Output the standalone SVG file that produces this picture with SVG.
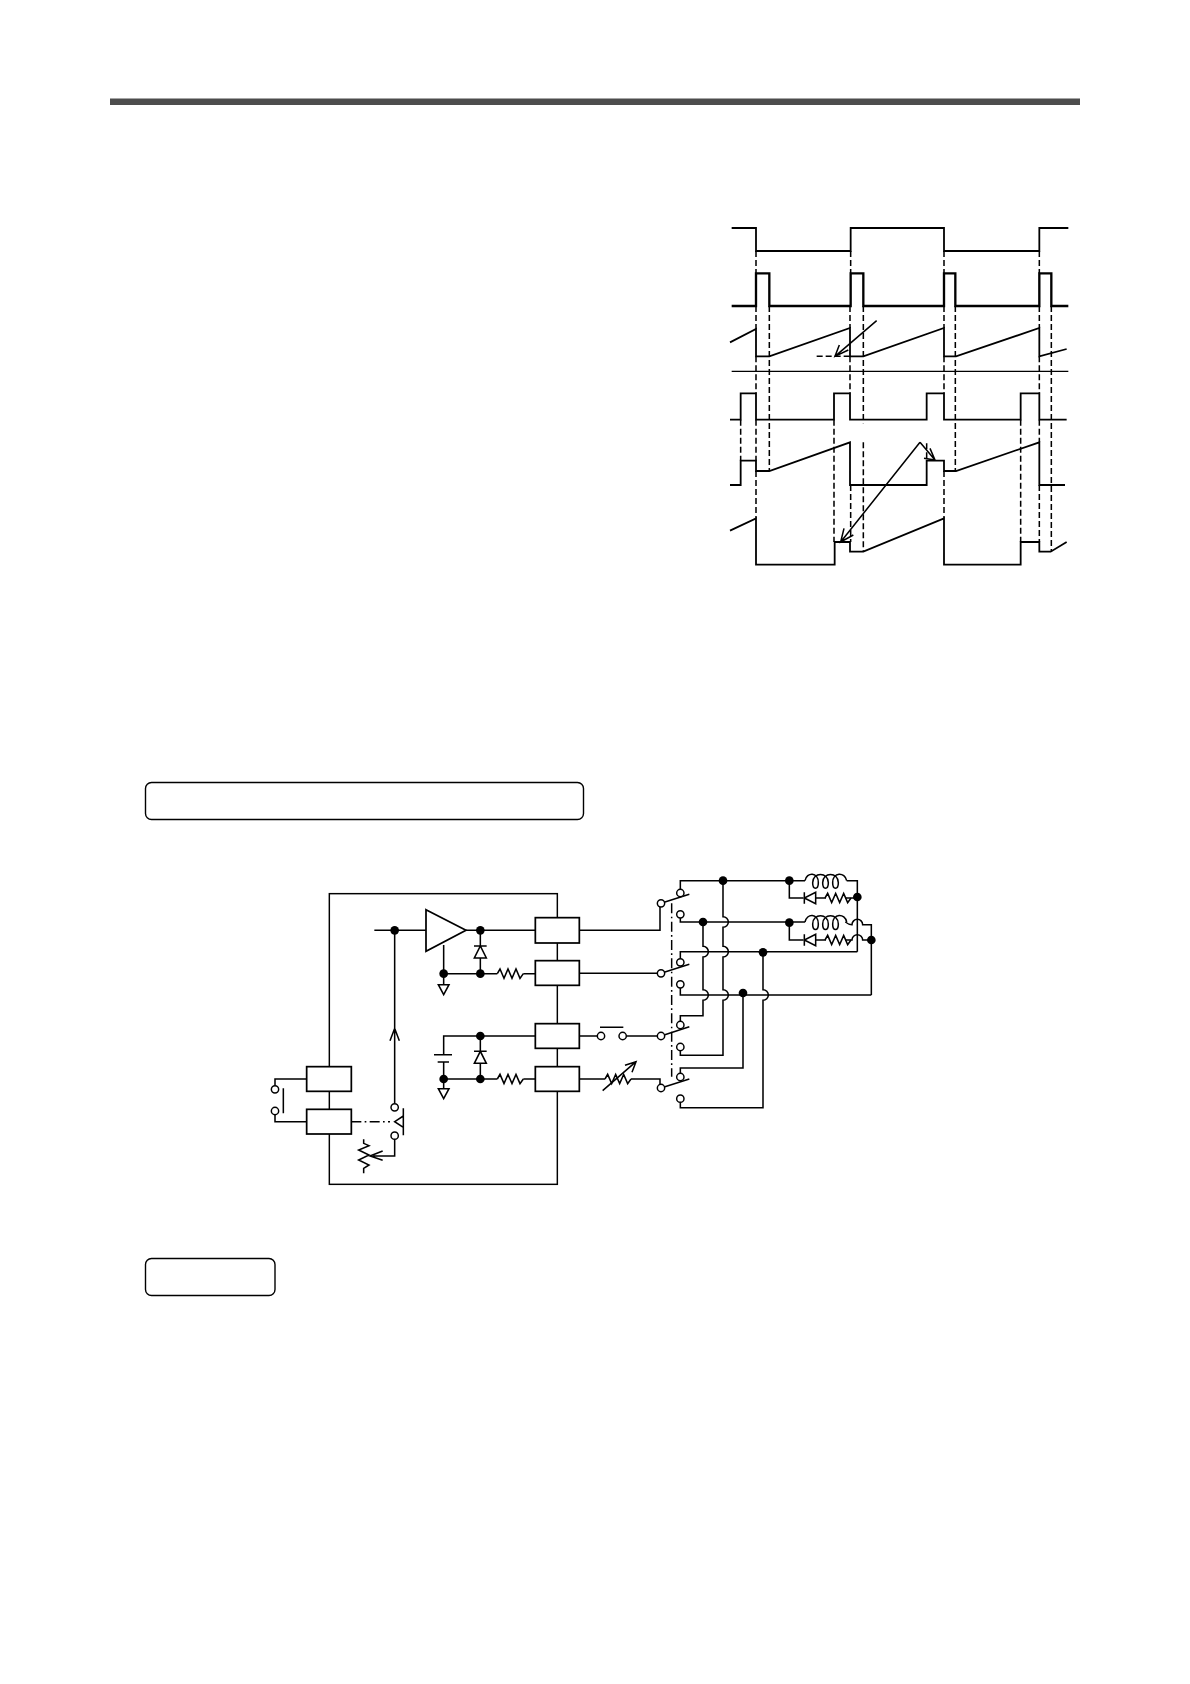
<svg xmlns="http://www.w3.org/2000/svg" xmlns:xlink="http://www.w3.org/1999/xlink" width="1190" height="1684" viewBox="0 0 1190 1684">
<style>
.w{fill:none;stroke:#000;stroke-width:5.4;stroke-linejoin:miter}
.wb{fill:none;stroke:#000;stroke-width:7;stroke-linejoin:miter}
.t{fill:none;stroke:#000;stroke-width:3.8}
.d{fill:none;stroke:#000;stroke-width:4.6;stroke-dasharray:18 9}
.c{fill:none;stroke:#000;stroke-width:4.6}
.b{fill:#fff;stroke:#000;stroke-width:5.2}
.o{fill:#fff;stroke:#000;stroke-width:4.4}
.n{fill:#000;stroke:none}
.dd{fill:none;stroke:#000;stroke-width:4.4;stroke-dasharray:30 10 5 10}
.frame{fill:#fff;stroke:#000;stroke-width:1.4}
</style>
<defs>
<path id="res" class="c" d="M0,0 L8,-14 L20,14 L32,-14 L44,14 L56,-14 L68,14 L78,0"/>
<circle id="dot" class="n" r="13"/>
<circle id="ring" class="o" r="11"/>
<path id="gnd" class="c" d="M-16,0 H16 L0,30 Z"/>
<g id="diodeUp"><path class="c" d="M-19,0 H19 M-18,36 H18 L0,0 Z"/></g>
<g id="diodeLeft"><path class="c" d="M0,-17 V17 M34,-17 V17 L0,0 Z"/></g>
<path id="coil" class="c" d="M0,0 C5,-27 40,-27 40,6 C40,28 23,28 23,6 C23,-27 70,-27 70,6 C70,28 53,28 53,6 C53,-27 100,-27 100,6 C100,28 83,28 83,6 C83,-27 120,-27 125,0"/>
</defs>
<rect width="1190" height="1684" fill="#fff"/>
<rect id="top-rule" x="110" y="98.500" width="970" height="6.500" fill="#4d4d4d"/>
<rect id="heading-box-1" class="frame" x="145.500" y="782.500" width="438" height="37" rx="6"/>
<rect id="heading-box-2" class="frame" x="145.500" y="1258.500" width="129.500" height="37" rx="6"/>

<g id="waveforms" transform="translate(720,210) scale(0.33333)">
<g id="connectors-dashed">
<path class="d" d="M108,123V190M392,123V190M672,123V190M958,123V190"/>
<path class="d" d="M148,288V783M430,288V640M430,697V1025M706,288V783M994,288V1025"/>
<path class="d" d="M108,288V357M108,439V550M108,629V752M108,783V925"/>
<path class="d" d="M390,288V354M390,439V550M392,825V996"/>
<path class="d" d="M672,288V354M672,439V550M672,783V925"/>
<path class="d" d="M958,288V354M958,439V550M958,629V697M958,825V996"/>
<path class="d" d="M62,629V752M342,629V996M902,629V996M620,700V752"/>
</g>
<path id="wave-1" class="w" d="M35,54H108V123H392V54H672V123H958V54H1045"/>
<path id="wave-2" class="wb" d="M35,288H108V190H148V288H392V190H430V288H672V190H706V288H958V190H994V288H1045"/>
<path id="wave-3" class="w" d="M30,397L108,357V439H148L390,354V439H430L672,354V439H708L958,354V439L1040,417"/>
<path id="wave-3-dash" class="d" d="M290,439H390"/>
<path id="axis" class="t" d="M35,484H1045"/>
<path id="wave-4" class="w" d="M30,629H62V550H108V629H342V550H390V629H620V550H672V629H902V550H958V629H1040"/>
<path id="wave-5" class="w" d="M30,825H62V752H108V783H148L390,697V825H620V752H672V783H708L958,697V825H1035"/>
<path id="wave-6" class="w" d="M30,962L108,925V1064H344V996H390V1025H430L672,925V1064H902V996H958V1025H992L1040,996"/>
<g id="arrows">
<path class="c" d="M470,332L345,439M385,420L345,439L358,405"/>
<path class="c" d="M600,697L362,996M400,975L362,996L372,955"/>
<path class="c" d="M600,697L645,750M612,745L645,750L630,715"/>
</g>
</g>

<g id="control-unit" transform="translate(260,880) scale(0.33333)">
<rect id="unit-frame" x="208" y="41" width="684" height="872" fill="none" stroke="#000" stroke-width="4.4"/>
<g id="connectors-left">
<path class="c" d="M343,151H498M618,151H826M404,151V670M390,482L404,445L418,482"/>
<path class="c" d="M661,151V198M661,234V281M551,195V314M551,281H712M790,281H826"/>
<path class="c" d="M826,468H551V524M522,524H576M533,546H567M551,546V626M661,468V514M661,550V597M551,597H712M790,597H826"/>
<path class="c" d="M140,597H45V617M45,704V725H140M70,625V700"/>
<path class="c" d="M404,778V828H340M368,813L330,828L368,841"/>
<path class="c" d="M430,685V766M430,708L404,725L430,742"/>
<path class="dd" d="M274,725H390"/>
<path class="c" d="M311,778L311,790L327,797L296,810L327,825L296,840L327,855L311,865L311,880"/>
</g>
<g id="amplifier"><path class="b" d="M498,89L618,151L498,214Z" fill="#fff"/></g>
<g id="block-a"><rect class="b" x="826" y="113" width="132" height="76"/></g>
<g id="block-b"><rect class="b" x="826" y="242" width="132" height="74"/></g>
<g id="block-c"><rect class="b" x="826" y="431" width="132" height="74"/></g>
<g id="block-d"><rect class="b" x="826" y="560" width="132" height="74"/></g>
<g id="block-e"><rect class="b" x="140" y="560" width="134" height="74"/></g>
<g id="block-f"><rect class="b" x="140" y="688" width="134" height="74"/></g>
<use xlink:href="#diodeUp" x="661" y="198"/>
<use xlink:href="#diodeUp" x="661" y="514"/>
<use xlink:href="#res" x="712" y="281"/>
<use xlink:href="#res" x="712" y="597"/>
<use xlink:href="#gnd" x="551" y="314"/>
<use xlink:href="#gnd" x="551" y="626"/>
<use xlink:href="#dot" x="404" y="151"/>
<use xlink:href="#dot" x="661" y="151"/>
<use xlink:href="#dot" x="551" y="281"/>
<use xlink:href="#dot" x="661" y="281"/>
<use xlink:href="#dot" x="661" y="468"/>
<use xlink:href="#dot" x="551" y="597"/>
<use xlink:href="#dot" x="661" y="597"/>
<use xlink:href="#ring" x="404" y="682"/>
<use xlink:href="#ring" x="404" y="767"/>
<use xlink:href="#ring" x="45" y="628"/>
<use xlink:href="#ring" x="45" y="693"/>
</g>

<g id="switch-network" transform="translate(570,860) scale(0.33333)">
<g id="connectors-right">
<path class="c" d="M28,211H270V141M28,340H262M28,528H82M169,528H262M90,502H160M28,657H105M195,657H270V672"/>
<path class="dd" d="M305,130V650"/>
<path class="c" d="M273,130L358,103M273,340L358,313M273,528L358,500M273,684L358,657"/>
<path class="c" d="M331,88V62H705M830,62H862V275M658,62V114H700M737,114H768M825,114H862"/>
<path class="c" d="M331,174V186H705M826,186Q836,194 846,194A16,16 0 0 1 878,194H904V405"/>
<path class="c" d="M658,186V240H700M737,240H768M825,240H846A16,16 0 0 1 878,240H904"/>
<path class="c" d="M331,296V275H862"/>
<path class="c" d="M331,384V405H904"/>
<path class="c" d="M399,186V259A16,16 0 0 1 399,291V389A16,16 0 0 1 399,421V467H331V484"/>
<path class="c" d="M459,62V170A16,16 0 0 1 459,202V259A16,16 0 0 1 459,291V389A16,16 0 0 1 459,421V586H331V572"/>
<path class="c" d="M519,405V624H331V640"/>
<path class="c" d="M579,275V389A16,16 0 0 1 579,421V743H331V727"/>
<path class="c" d="M98,692L198,605M165,616L198,605L186,637"/>
</g>
<use xlink:href="#res" x="105" y="657"/>
<path class="c" d="M183,657H195"/>
<use xlink:href="#coil" x="705" y="62"/>
<use xlink:href="#coil" x="705" y="186"/>
<use xlink:href="#diodeLeft" x="703" y="114"/>
<use xlink:href="#diodeLeft" x="703" y="240"/>
<use xlink:href="#res" x="765" y="114"/>
<use xlink:href="#res" x="765" y="240"/>
<use xlink:href="#dot" x="459" y="62"/>
<use xlink:href="#dot" x="658" y="62"/>
<use xlink:href="#dot" x="862" y="111"/>
<use xlink:href="#dot" x="399" y="186"/>
<use xlink:href="#dot" x="658" y="188"/>
<use xlink:href="#dot" x="904" y="240"/>
<use xlink:href="#dot" x="579" y="277"/>
<use xlink:href="#dot" x="519" y="399"/>
<use xlink:href="#ring" x="273" y="130"/>
<use xlink:href="#ring" x="331" y="99"/>
<use xlink:href="#ring" x="331" y="163"/>
<use xlink:href="#ring" x="273" y="340"/>
<use xlink:href="#ring" x="331" y="307"/>
<use xlink:href="#ring" x="331" y="373"/>
<use xlink:href="#ring" x="93" y="528"/>
<use xlink:href="#ring" x="158" y="528"/>
<use xlink:href="#ring" x="273" y="528"/>
<use xlink:href="#ring" x="331" y="495"/>
<use xlink:href="#ring" x="331" y="561"/>
<use xlink:href="#ring" x="273" y="684"/>
<use xlink:href="#ring" x="331" y="651"/>
<use xlink:href="#ring" x="331" y="716"/>
</g>
</svg>
